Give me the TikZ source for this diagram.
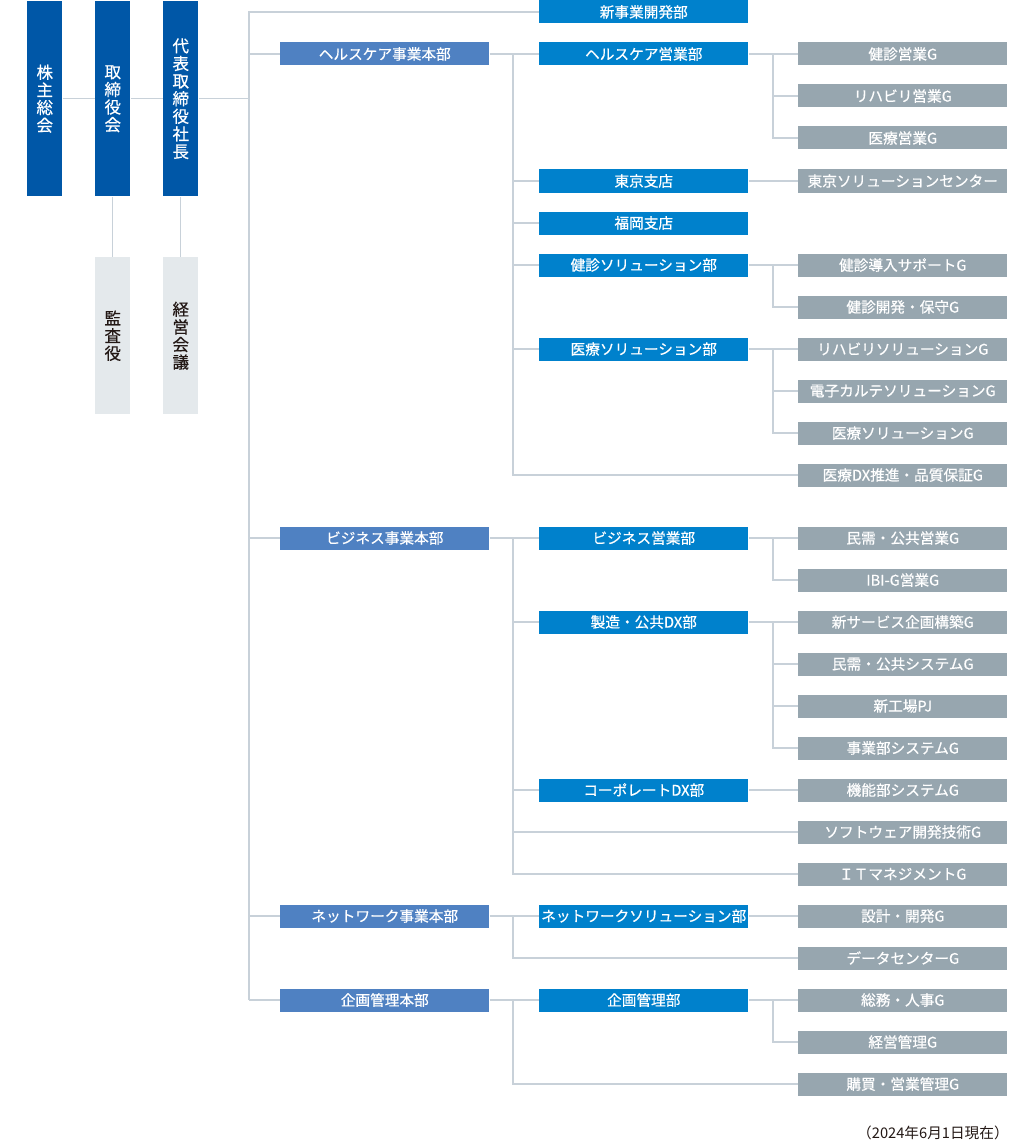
\documentclass[tikz,border=0pt]{standalone}
\usepackage{fontspec}
\setmainfont{Noto Sans CJK JP}
\newfontfamily\medfont{Noto Sans CJK JP}[FakeBold=0.5]
\definecolor{cExec}{HTML}{0057A7}
\definecolor{cHQ}{HTML}{4F81C2}
\definecolor{cDept}{HTML}{0081CC}
\definecolor{cGrp}{HTML}{97A6AF}
\definecolor{cAux}{HTML}{E4E9EC}
\definecolor{cLine}{HTML}{C8D1D9}
\definecolor{cText}{HTML}{231815}
\begin{document}
\begin{tikzpicture}[x=0.75pt,y=-0.75pt,
  box/.style={inner sep=0pt, minimum height=17.25pt, minimum width=156.75pt,
    font=\medfont\fontsize{11}{12}\selectfont, text=white, anchor=west},
  hq/.style={box, fill=cHQ},
  dept/.style={box, fill=cDept},
  grp/.style={box, fill=cGrp},
  topbox/.style={inner sep=0pt, minimum width=26.25pt, minimum height=146.25pt,
    align=center, font=\medfont\fontsize{12.4}{13.2}\selectfont, anchor=north west},
  exec/.style={topbox, fill=cExec, text=white},
  aux/.style={topbox, fill=cAux, text=cText, minimum height=117.75pt},
  ln/.style={draw=cLine, line width=0.9pt}]
\useasboundingbox (0,0) rectangle (1011,1145);

% top level
\node[exec] (kabu) at (27,1) {株\\主\\総\\会};
\node[exec] (tori) at (95,1) {取\\締\\役\\会};
\node[exec] (pres) at (163,1) {代\\表\\取\\締\\役\\社\\長};
\node[aux] (kansa) at (95,257) {監\\査\\役};
\node[aux] (keiei) at (163,257) {経\\営\\会\\議};

\coordinate (trunk) at (249,0);
\coordinate (br) at (513,0);
\coordinate (sb) at (773,0);

% rows
\node[dept] (shin) at (539,12) {新事業開発部};
\node[hq] (hc) at (280,54) {ヘルスケア事業本部};
\node[dept] (hcs) at (539,54) {ヘルスケア営業部};
\node[grp] (g1) at (798,54) {健診営業G};
\node[grp] (g2) at (798,96) {リハビリ営業G};
\node[grp] (g3) at (798,138) {医療営業G};
\node[dept] (tky) at (539,181) {東京支店};
\node[grp] (g4) at (798,181) {東京ソリューションセンター};
\node[dept] (fko) at (539,223) {福岡支店};
\node[dept] (kss) at (539,265) {健診ソリューション部};
\node[grp] (g5) at (798,265) {健診導入サポートG};
\node[grp] (g6) at (798,307) {健診開発・保守G};
\node[dept] (iss) at (539,349) {医療ソリューション部};
\node[grp] (g7) at (798,349) {リハビリソリューションG};
\node[grp] (g8) at (798,391) {電子カルテソリューションG};
\node[grp] (g9) at (798,433) {医療ソリューションG};
\node[grp] (g10) at (798,475) {医療DX推進・品質保証G};
\node[hq] (bz) at (280,538) {ビジネス事業本部};
\node[dept] (bzs) at (539,538) {ビジネス営業部};
\node[grp] (g11) at (798,538) {民需・公共営業G};
\node[grp] (g12) at (798,580) {IBI-G営業G};
\node[dept] (mfg) at (539,622) {製造・公共DX部};
\node[grp] (g13) at (798,622) {新サービス企画構築G};
\node[grp] (g14) at (798,664) {民需・公共システムG};
\node[grp] (g15) at (798,706) {新工場PJ};
\node[grp] (g16) at (798,748) {事業部システムG};
\node[dept] (cdx) at (539,790) {コーポレートDX部};
\node[grp] (g17) at (798,790) {機能部システムG};
\node[grp] (g18) at (798,832) {ソフトウェア開発技術G};
\node[grp] (g19) at (798,874) {ＩＴマネジメントG};
\node[hq] (nw) at (280,916) {ネットワーク事業本部};
\node[dept] (nws) at (539,916) {ネットワークソリューション部};
\node[grp] (g20) at (798,916) {設計・開発G};
\node[grp] (g21) at (798,958) {データセンターG};
\node[hq] (kk) at (280,1000) {企画管理本部};
\node[dept] (kkb) at (539,1000) {企画管理部};
\node[grp] (g22) at (798,1000) {総務・人事G};
\node[grp] (g23) at (798,1042) {経営管理G};
\node[grp] (g24) at (798,1084) {購買・営業管理G};

\node[anchor=east, inner sep=0pt, font=\fontsize{11}{12}\selectfont, text=cText] (note) at (1009,1133) {（2024年6月1日現在）};

% top connectors
\draw[ln] (kabu.east) -- (tori.west);
\draw[ln] (tori.east) -- (pres.west);
\draw[ln] (tori.south) -- (kansa.north);
\draw[ln] (pres.south) -- (keiei.north);
\draw[ln] (pres.east) -- (pres.east -| trunk);
\draw[ln] (shin.west) -- (trunk |- shin.west) -- (trunk |- kk.west);

% healthcare
\draw[ln] (hc.west -| trunk) -- (hc.west);
\draw[ln] (hc.east) -- (hcs.west);
\draw[ln] (hc.east -| br) |- (g10.west);
\foreach \n in {tky,fko,kss,iss} \draw[ln] (\n.west -| br) -- (\n.west);
\draw[ln] (hcs.east) -- (g1.west);
\draw[ln] (hcs.east -| sb) |- (g3.west);
\draw[ln] (g2.west -| sb) -- (g2.west);
\draw[ln] (tky.east) -- (g4.west);
\draw[ln] (kss.east) -- (g5.west);
\draw[ln] (kss.east -| sb) |- (g6.west);
\draw[ln] (iss.east) -- (g7.west);
\draw[ln] (iss.east -| sb) |- (g9.west);
\draw[ln] (g8.west -| sb) -- (g8.west);

% business
\draw[ln] (bz.west -| trunk) -- (bz.west);
\draw[ln] (bz.east) -- (bzs.west);
\draw[ln] (bz.east -| br) |- (g19.west);
\foreach \n in {mfg,cdx} \draw[ln] (\n.west -| br) -- (\n.west);
\draw[ln] (g18.west -| br) -- (g18.west);
\draw[ln] (bzs.east) -- (g11.west);
\draw[ln] (bzs.east -| sb) |- (g12.west);
\draw[ln] (mfg.east) -- (g13.west);
\draw[ln] (mfg.east -| sb) |- (g16.west);
\foreach \n in {g14,g15} \draw[ln] (\n.west -| sb) -- (\n.west);
\draw[ln] (cdx.east) -- (g17.west);

% network
\draw[ln] (nw.west -| trunk) -- (nw.west);
\draw[ln] (nw.east) -- (nws.west);
\draw[ln] (nw.east -| br) |- (g21.west);
\draw[ln] (nws.east) -- (g20.west);

% planning
\draw[ln] (kk.west -| trunk) -- (kk.west);
\draw[ln] (kk.east) -- (kkb.west);
\draw[ln] (kk.east -| br) |- (g24.west);
\draw[ln] (kkb.east) -- (g22.west);
\draw[ln] (kkb.east -| sb) |- (g23.west);
\end{tikzpicture}
\end{document}
